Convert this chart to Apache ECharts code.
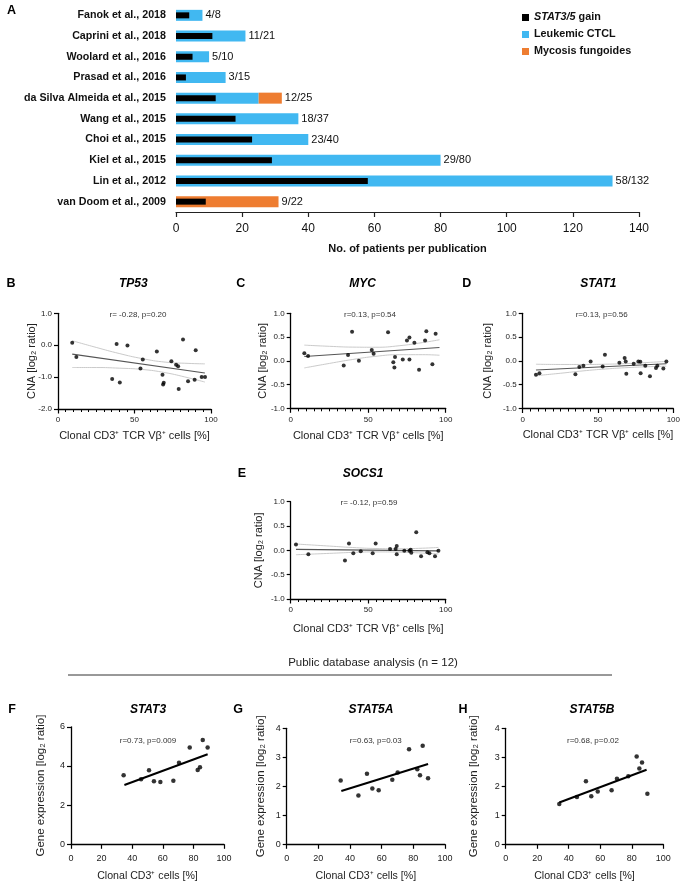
<!DOCTYPE html>
<html><head><meta charset="utf-8">
<script src="https://cdn.jsdelivr.net/npm/echarts@6/dist/echarts.min.js"></script>
<style>html,body{margin:0;padding:0;background:#fff}#c{width:684px;height:886px}</style>
</head><body><div id="c"></div>
<script>
const FONT = '"Liberation Sans", Arial, Helvetica, sans-serif';

// ---------- Panel A data ----------
const publications = ['Fanok et al., 2018','Caprini et al., 2018','Woolard et al., 2016','Prasad et al., 2016','da Silva Almeida et al., 2015','Wang et al., 2015','Choi et al., 2015','Kiel et al., 2015','Lin et al., 2012','van Doom et al., 2009'];
const gainCounts = [4, 11, 5, 3, 12, 18, 23, 29, 58, 9];
const leukemicCounts = [8, 21, 10, 15, 25, 37, 40, 80, 132, 0];
const mfCounts = [0, 0, 0, 0, 7, 0, 0, 0, 0, 31];
const ratioLabels = ['4/8','11/21','5/10','3/15','12/25','18/37','23/40','29/80','58/132','9/22'];
const patientTicks = [0, 20, 40, 60, 80, 100, 120, 140];

// ---------- Panel B-E data (CNA vs clonal cells) ----------
const tp53Points = [[9.3,0.08],[12,-0.37],[35.4,-1.06],[38.3,0.04],[40.4,-1.17],[45.4,-0.01],[53.9,-0.73],[55.4,-0.45],[64.6,-0.2],[68.3,-0.93],[68.7,-1.23],[69.1,-1.18],[74.1,-0.5],[77.2,-0.61],[78.5,-0.66],[78.9,-1.37],[81.7,0.18],[85,-1.13],[89.3,-1.08],[90,-0.16],[93.9,-1.0],[96.1,-1.0]];
const tp53Fit = [[9.3,-0.28],[96,-0.87]];
const tp53Upper = [[9.3,0.14],[25,-0.07],[40,-0.26],[55,-0.42],[70,-0.53],[85,-0.57],[96,-0.585]];
const tp53Lower = [[9.3,-0.70],[25,-0.70],[40,-0.72],[55,-0.76],[70,-0.86],[85,-1.02],[96,-1.155]];

const mycPoints = [[8.8,0.16],[11.2,0.10],[34.2,-0.10],[37,0.12],[39.6,0.61],[44,0.0],[52.3,0.23],[53.5,0.15],[62.8,0.60],[66.2,-0.03],[66.9,-0.14],[67.3,0.08],[72.3,0.03],[75,0.43],[76.6,0.49],[76.6,0.03],[79.8,0.38],[82.8,-0.19],[86.7,0.43],[87.5,0.62],[91.4,-0.07],[93.5,0.57]];
const mycFit = [[8.8,0.09],[96,0.28]];
const mycUpper = [[8.8,0.33],[25,0.305],[40,0.288],[55,0.285],[70,0.317],[85,0.383],[96,0.443]];
const mycLower = [[8.8,-0.15],[25,-0.055],[40,0.028],[55,0.095],[70,0.129],[85,0.129],[96,0.117]];

const stat1Points = [[8.8,-0.29],[11.1,-0.26],[35,-0.28],[37.6,-0.13],[40.3,-0.10],[45.1,-0.01],[53.1,-0.12],[54.6,0.13],[64.2,-0.04],[67.7,0.06],[68.4,-0.01],[68.8,-0.27],[73.7,-0.06],[76.8,-0.01],[78.1,-0.02],[78.3,-0.26],[81.4,-0.10],[84.5,-0.32],[88.5,-0.15],[89.4,-0.10],[93.4,-0.16],[95.4,-0.01]];
const stat1Fit = [[8.8,-0.19],[95.4,-0.06]];
const stat1Upper = [[8.8,-0.07],[25,-0.075],[40,-0.075],[55,-0.07],[70,-0.055],[85,-0.03],[95.4,-0.01]];
const stat1Lower = [[8.8,-0.31],[25,-0.26],[40,-0.21],[55,-0.17],[70,-0.14],[85,-0.12],[95.4,-0.11]];

const socs1Points = [[3.4,0.12],[11.4,-0.08],[35,-0.21],[37.6,0.14],[40.4,-0.06],[45.2,-0.02],[52.9,-0.06],[54.8,0.14],[64.1,0.03],[67.7,0.03],[68.4,0.09],[68.4,-0.08],[73.3,-0.01],[76.6,-0.01],[77.4,0.01],[77.8,-0.05],[81,0.37],[84.1,-0.12],[88.2,-0.04],[89.5,-0.06],[93.1,-0.12],[95.3,-0.01]];
const socs1Fit = [[3.4,0.02],[95.3,-0.01]];
const socs1Upper = [[3.4,0.13],[25,0.088],[40,0.058],[55,0.038],[70,0.033],[85,0.044],[95.3,0.06]];
const socs1Lower = [[3.4,-0.09],[25,-0.062],[40,-0.042],[55,-0.032],[70,-0.037],[85,-0.056],[95.3,-0.075]];

// ---------- Panel F-H data (gene expression) ----------
const stat3Points = [[34.4,3.52],[45.8,3.32],[51,3.78],[54.2,3.22],[58.4,3.18],[66.9,3.25],[70.6,4.17],[77.6,4.94],[82.8,3.80],[84.3,3.93],[86.1,5.33],[89.3,4.94]];
const stat3Fit = [[34.9,3.03],[89.3,4.6]];
const stat5aPoints = [[34.1,2.2],[45.3,1.68],[50.7,2.43],[54.1,1.92],[58.1,1.86],[66.7,2.23],[70.1,2.48],[77.3,3.28],[82.5,2.59],[84.2,2.38],[85.9,3.40],[89.3,2.28]];
const stat5aFit = [[34.5,1.84],[89.3,2.77]];
const stat5bPoints = [[34,1.39],[45.2,1.63],[50.9,2.17],[54.3,1.66],[58.4,1.82],[67.2,1.86],[70.6,2.26],[77.8,2.35],[83.1,3.03],[84.8,2.61],[86.5,2.82],[89.9,1.74]];
const stat5bFit = [[34,1.44],[89.4,2.57]];

const cnaTitle = 'CNA [log\u2082 ratio]';
const tcrTitle = 'Clonal CD3\u207A TCR V\u03B2\u207A cells [%]';
const geTitle = 'Gene expression [log\u2082 ratio]';
const cd3Title = 'Clonal CD3\u207A cells [%]';

// ---------- layout ----------
const grids = [
  {left:176, top:5, width:463, height:207},
  {left:58, top:313.3, width:153, height:95.7},
  {left:290.7, top:313.3, width:155, height:95},
  {left:522.7, top:313.3, width:150.6, height:95.2},
  {left:290.7, top:501.7, width:155, height:97.3},
  {left:71, top:726.8, width:153, height:117.5},
  {left:286.7, top:728.3, width:158.3, height:116},
  {left:505.7, top:728.3, width:157.6, height:116}
].map(g => Object.assign({outerBoundsMode:'none', containLabel:false}, g));

function xAxisVal(gi, name, small, nameGap) {
  return {type:'value', gridIndex:gi, min:0, max:100, interval: small ? 50 : 20,
    name, nameLocation:'middle', nameGap, nameMoveOverlap:false,
    nameTextStyle:{fontFamily:FONT, fontSize: small ? 11 : 10.6, color:'#222'},
    axisLine:{show:true, onZero:false, lineStyle:{color:'#000', width:1.3}},
    axisTick:{show:true, length:4.5, lineStyle:{color:'#000', width:1.2}},
    minorTick:{show: small, splitNumber:10, length:3, lineStyle:{color:'#000', width:1}},
    axisLabel:{fontFamily:FONT, fontSize: small ? 8 : 9, color:'#222', margin: small ? 7 : 10},
    splitLine:{show:false}, minorSplitLine:{show:false}};
}
function yAxisVal(gi, name, min, max, interval, dec, nameGap, fs) {
  return {type:'value', gridIndex:gi, min, max, interval,
    name, nameLocation:'middle', nameGap, nameMoveOverlap:false,
    nameTextStyle:{fontFamily:FONT, fontSize:fs, color:'#222'},
    axisLine:{show:true, onZero:false, lineStyle:{color:'#000', width:1.3}},
    axisTick:{show:true, length:4, lineStyle:{color:'#000', width:1.2}},
    axisLabel:{fontFamily:FONT, fontSize: dec ? 8 : 9, color:'#222', margin:6,
      formatter: v => dec ? v.toFixed(1) : String(v)},
    splitLine:{show:false}};
}

const xAxes = [
  {type:'value', gridIndex:0, min:patientTicks[0], max:patientTicks[patientTicks.length-1], interval:20,
   name:'No. of patients per publication', nameLocation:'middle', nameGap:31, nameMoveOverlap:false,
   nameTextStyle:{fontFamily:FONT, fontSize:11, fontWeight:'bold', color:'#111'},
   axisLine:{show:true, onZero:false, lineStyle:{color:'#222', width:1.2}},
   axisTick:{show:true, length:5, lineStyle:{color:'#222', width:1.2}},
   axisLabel:{fontFamily:FONT, fontSize:12, color:'#111', margin:11},
   splitLine:{show:false}},
  xAxisVal(1, tcrTitle, true, 21),
  xAxisVal(2, tcrTitle, true, 22),
  xAxisVal(3, tcrTitle, true, 21),
  xAxisVal(4, tcrTitle, true, 24),
  xAxisVal(5, cd3Title, false, 26),
  xAxisVal(6, cd3Title, false, 26),
  xAxisVal(7, cd3Title, false, 26)
];
const yAxes = [
  {type:'category', gridIndex:0, data:publications, inverse:true,
   axisLine:{show:false}, axisTick:{show:false},
   axisLabel:{fontFamily:FONT, fontSize:10.7, fontWeight:'bold', color:'#111', margin:10}},
  {type:'category', gridIndex:0, data:publications, inverse:true, show:false},
  yAxisVal(1, cnaTitle, -2, 1, 1, true, 21, 11),
  yAxisVal(2, cnaTitle, -1, 1, 0.5, true, 22, 11),
  yAxisVal(3, cnaTitle, -1, 1, 0.5, true, 29.5, 11),
  yAxisVal(4, cnaTitle, -1, 1, 0.5, true, 26, 11),
  yAxisVal(5, geTitle, 0, 6, 2, false, 24, 11.5),
  yAxisVal(6, geTitle, 0, 4, 1, false, 20, 11.5),
  yAxisVal(7, geTitle, 0, 4, 1, false, 26, 11.5)
];

const series = [
  {name:'STAT3/5 gain', type:'bar', xAxisIndex:0, yAxisIndex:1, data:gainCounts, barWidth:6, z:4,
   itemStyle:{color:'#000'}},
  {name:'Leukemic CTCL', type:'bar', stack:'pts', xAxisIndex:0, yAxisIndex:0, barWidth:11, z:2,
   itemStyle:{color:'#41b8f1'},
   data: leukemicCounts.map((v,i) => ({value:v, label:{show: mfCounts[i] === 0, formatter: ratioLabels[i]}})),
   label:{position:'right', distance:3, fontFamily:FONT, fontSize:11, color:'#111'}},
  {name:'Mycosis fungoides', type:'bar', stack:'pts', xAxisIndex:0, yAxisIndex:0, barWidth:11, z:2,
   itemStyle:{color:'#ee7d31'},
   data: mfCounts.map((v,i) => ({value:v, label:{show: v > 0, formatter: ratioLabels[i]}})),
   label:{position:'right', distance:3, fontFamily:FONT, fontSize:11, color:'#111'}}
];

function addPanel(gi, pts, fit, upper, lower, big) {
  const common = {xAxisIndex:gi, yAxisIndex:gi+1, silent:true};
  if (upper) {
    series.push(Object.assign({type:'line', data:upper, smooth:true, symbol:'none',
      lineStyle:{color:'#c4c4c4', width:0.9}}, common));
    series.push(Object.assign({type:'line', data:lower, smooth:true, symbol:'none',
      lineStyle:{color:'#c4c4c4', width:0.9}}, common));
  }
  series.push(Object.assign({type:'line', data:fit, symbol:'none',
    lineStyle: big ? {color:'#000', width:2} : {color:'#555', width:1.1}}, common));
  series.push(Object.assign({type:'scatter', data:pts, symbol:'circle', symbolSize: big ? 4.5 : 4,
    itemStyle:{color:'#000'}, z:5}, common));
}
addPanel(1, tp53Points, tp53Fit, tp53Upper, tp53Lower, false);
addPanel(2, mycPoints, mycFit, mycUpper, mycLower, false);
addPanel(3, stat1Points, stat1Fit, stat1Upper, stat1Lower, false);
addPanel(4, socs1Points, socs1Fit, socs1Upper, socs1Lower, false);
addPanel(5, stat3Points, stat3Fit, null, null, true);
addPanel(6, stat5aPoints, stat5aFit, null, null, true);
addPanel(7, stat5bPoints, stat5bFit, null, null, true);

function txt(text, x, y, size, opts) {
  return {type:'text', x, y, silent:true, style:Object.assign({text, fontFamily:FONT, fontSize:size,
    fill:'#111', textAlign:'center', textVerticalAlign:'middle'}, opts || {})};
}
const letter = (t, x, y) => txt(t, x, y, 12.5, {fontWeight:'bold', fill:'#000'});
const gene = (t, x, y) => txt(t, x, y, 12, {fontWeight:'bold', fontStyle:'italic', fill:'#000'});
const stat = (t, x, y) => txt(t, x, y, 8, {fill:'#333'});

const graphic = [
  letter('A', 11.5, 10.5),
  letter('B', 11, 284), letter('C', 240.7, 284), letter('D', 466.7, 284), letter('E', 242, 473.3),
  letter('F', 12, 710), letter('G', 238, 710), letter('H', 463, 710),
  gene('TP53', 133.3, 284), gene('MYC', 362.7, 284), gene('STAT1', 598.3, 284), gene('SOCS1', 363, 473.3),
  gene('STAT3', 148, 710), gene('STAT5A', 371, 710), gene('STAT5B', 592, 710),
  stat('r= -0.28, p=0.20', 138, 314.3), stat('r=0.13, p=0.54', 370, 314.3),
  stat('r=0.13, p=0.56', 601.7, 314.3), stat('r= -0.12, p=0.59', 369, 503),
  stat('r=0.73, p=0.009', 148, 741), stat('r=0.63, p=0.03', 375.7, 740.7), stat('r=0.68, p=0.02', 593, 740.7),
  txt('Public database analysis (n = 12)', 373, 663, 11.5, {fill:'#222'}),
  {type:'line', silent:true, shape:{x1:68, y1:675, x2:612, y2:675}, style:{stroke:'#333', lineWidth:1}}
];

const chart = echarts.init(document.getElementById('c'), null, {renderer:'canvas'});
chart.setOption({
  animation:false,
  backgroundColor:'#fff',
  textStyle:{fontFamily:FONT},
  legend:{orient:'vertical', left:517, top:7, itemWidth:7, itemHeight:7, itemGap:6, icon:'rect',
    data:['STAT3/5 gain','Leukemic CTCL','Mycosis fungoides'],
    formatter: n => n === 'STAT3/5 gain' ? '{it|STAT3/5} gain' : n,
    textStyle:{fontFamily:FONT, fontSize:10.8, fontWeight:'bold', color:'#111',
      rich:{it:{fontFamily:FONT, fontSize:10.8, fontWeight:'bold', fontStyle:'italic', color:'#111'}}}},
  grid:grids,
  xAxis:xAxes,
  yAxis:yAxes,
  series,
  graphic
});
</script></body></html>
